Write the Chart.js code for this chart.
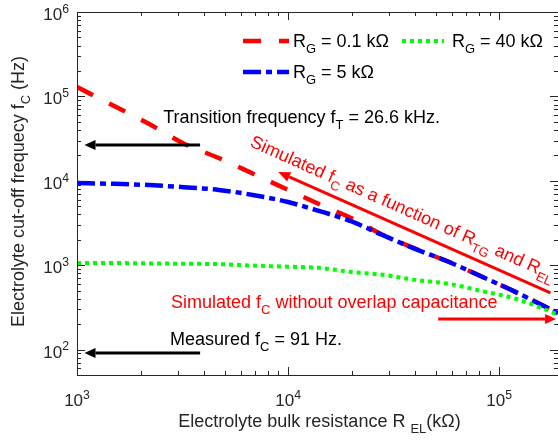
<!DOCTYPE html>
<html><head><meta charset="utf-8">
<script src="https://cdn.jsdelivr.net/npm/chart.js@4/dist/chart.umd.min.js"></script>
<style>html,body{margin:0;padding:0;background:#fff;overflow:hidden}#wrap{width:558px;height:446px;position:relative}</style>
</head><body><div id="wrap"><canvas id="c" width="558" height="446"></canvas></div>
<script>
// ---- data ----
const resistance = [1000,1500,2200,3200,4700,6800,10000,14000,20000,28000,40000,58000,84000,120000,190000]; // R_EL (kOhm)
const fcRG01 = [129000,77000,47000,27700,18600,12200,7800,5300,3600,2300,1570,1090,720,480,270];
const fcRG5  = [9400,9200,8900,8400,7800,6800,5600,4400,3300,2280,1560,1090,720,480,270];
const fcRG40 = [1060,1060,1050,1040,1030,990,960,930,830,770,670,600,490,400,260];
const seriesLabels = ['0.1 k\u03A9','5 k\u03A9','40 k\u03A9'];
const xDecades = [3,4,5];
const yDecades = [2,3,4,5,6];
const transitionFreq = 26600;   // Hz
const measuredFc = 91;          // Hz

const FAM = '"Liberation Sans", Arial, Helvetica, sans-serif';
const AX = '#262626';

function drawRich(ctx, parts, x, y, size, align, color){
  const segs=[]; let total=0;
  for(const p of parts){
    const k=p[1]||'';
    const fs = k ? size*0.72 : size;
    ctx.font = fs+'px '+FAM;
    const w = ctx.measureText(p[0]).width;
    segs.push({t:p[0],fs,w,dy: k==='sub'? size*0.33 : (k==='sup'? -size*0.42 : 0)});
    total+=w;
  }
  let cx = align==='center'? x-total/2 : (align==='right'? x-total : x);
  ctx.textAlign='left'; ctx.textBaseline='alphabetic'; ctx.fillStyle=color;
  for(const s of segs){ ctx.font=s.fs+'px '+FAM; ctx.fillText(s.t,cx,y+s.dy); cx+=s.w; }
  return total;
}
function arrow(ctx, x1,y1,x2,y2,color,lw,hl,hw){
  const a=Math.atan2(y2-y1,x2-x1);
  const bx=x2-hl*Math.cos(a), by=y2-hl*Math.sin(a);
  ctx.save(); ctx.strokeStyle=color; ctx.fillStyle=color; ctx.lineWidth=lw; ctx.setLineDash([]);
  ctx.beginPath(); ctx.moveTo(x1,y1); ctx.lineTo(bx,by); ctx.stroke();
  ctx.beginPath(); ctx.moveTo(x2,y2);
  ctx.lineTo(bx+hw*Math.sin(a), by-hw*Math.cos(a));
  ctx.lineTo(bx-hw*Math.sin(a), by+hw*Math.cos(a)); ctx.closePath(); ctx.fill();
  ctx.restore();
}

const decor = {
  id:'decor',
  afterDatasetsDraw(chart){
    const ctx=chart.ctx, ca=chart.chartArea, xs=chart.scales.x, ys=chart.scales.y;
    ctx.save();
    // axes box (left, top, bottom)
    ctx.strokeStyle=AX; ctx.lineWidth=1; ctx.setLineDash([]);
    ctx.beginPath();
    ctx.moveTo(ca.left+0.5, ca.top+0.5); ctx.lineTo(ca.right, ca.top+0.5);
    ctx.moveTo(ca.left+0.5, ca.top); ctx.lineTo(ca.left+0.5, ca.bottom+0.5);
    ctx.moveTo(ca.left, ca.bottom+0.5); ctx.lineTo(ca.right, ca.bottom+0.5);
    ctx.stroke();
    // ticks
    ctx.beginPath();
    for(let d=xDecades[0]; d<=xDecades[xDecades.length-1]+1; d++){
      for(let m=1;m<=9;m++){
        const v=m*Math.pow(10,d); if(v<xs.min||v>xs.max) continue;
        const px=Math.round(xs.getPixelForValue(v))+0.5, L=m===1?8:4;
        ctx.moveTo(px,ca.bottom); ctx.lineTo(px,ca.bottom-L);
        ctx.moveTo(px,ca.top); ctx.lineTo(px,ca.top+L);
      }
    }
    for(let d=1; d<=6; d++){
      for(let m=1;m<=9;m++){
        const v=m*Math.pow(10,d); if(v<ys.min||v>ys.max) continue;
        const py=Math.round(ys.getPixelForValue(v))+0.5, L=m===1?8:4;
        ctx.moveTo(ca.left,py); ctx.lineTo(ca.left+L,py);
        ctx.moveTo(ca.right,py); ctx.lineTo(ca.right-L,py);
      }
    }
    ctx.stroke();
    // tick labels
    for(const d of xDecades){
      drawRich(ctx,[['10'],[String(d),'sup']], xs.getPixelForValue(Math.pow(10,d)), ca.bottom+31, 17,'center',AX);
    }
    for(const d of yDecades){
      drawRich(ctx,[['10'],[String(d),'sup']], ca.left-8, ys.getPixelForValue(Math.pow(10,d))+8, 17,'right',AX);
    }
    // axis titles
    drawRich(ctx,[['Electrolyte bulk resistance R '],['EL','sub'],['(k\u03A9)']], (ca.left+ca.right)/2+2, 427, 18,'center',AX);
    ctx.save(); ctx.translate(24,(ca.top+ca.bottom)/2-2); ctx.rotate(-Math.PI/2);
    drawRich(ctx,[['Electrolyte cut-off frequecy f'],['C','sub'],[' (Hz)']],0,0,18,'center',AX);
    ctx.restore();

    // legend
    const ds=chart.data.datasets;
    const leg=[[0,243,41],[2,402,41],[1,243,72]];
    for(const [i,lx,ly] of leg){
      const o=ds[i];
      ctx.save(); ctx.strokeStyle=o.borderColor; ctx.lineWidth=o.borderWidth; ctx.setLineDash(o.borderDash); ctx.lineCap='butt';
      ctx.beginPath(); ctx.moveTo(lx,ly); ctx.lineTo(lx+(i===2?42:46),ly); ctx.stroke(); ctx.restore();
      drawRich(ctx,[['R'],['G','sub'],[' = '+seriesLabels[i]]], lx+(i===2?50:50), ly+6, 18,'left','#000');
    }

    // annotations (anchored in data coordinates)
    const P=(r,f)=>[xs.getPixelForValue(r), ys.getPixelForValue(f)];
    let a=P(3830,transitionFreq), b=P(1085,transitionFreq);
    arrow(ctx,a[0],a[1],b[0],b[1],'#000',3,11,5);
    let t=P(2560,48400); drawRich(ctx,[['Transition frequency f'],['T','sub'],[' = 26.6 kHz.']],t[0],t[1],18,'left','#000');
    a=P(3830,measuredFc); b=P(1085,measuredFc);
    arrow(ctx,a[0],a[1],b[0],b[1],'#000',3,11,5);
    t=P(2760,113); drawRich(ctx,[['Measured f'],['C','sub'],[' = 91 Hz.']],t[0],t[1],18,'left','#000');
    t=P(2790,311); drawRich(ctx,[['Simulated f'],['C','sub'],[' without overlap capacitance']],t[0],t[1],18,'left','#ff0000');
    a=P(51400,231); b=P(186000,231);
    arrow(ctx,a[0],a[1],b[0],b[1],'#ff0000',3,11,5);
    a=P(175000,469); b=P(8980,12700);
    arrow(ctx,a[0],a[1],b[0],b[1],'#ff0000',3,12,5);
    const ang=Math.atan2(a[1]-b[1],a[0]-b[0]);
    t=P(6530,25800);
    ctx.save(); ctx.translate(t[0],t[1]); ctx.rotate(ang);
    drawRich(ctx,[['Simulated f'],['C','sub'],[' as a function of R'],['TG','sub'],[' and R'],['EL','sub']],0,0,18,'left','#ff0000');
    ctx.restore();
    ctx.restore();
  }
};

const mk=(vals)=>resistance.map((r,i)=>({x:r,y:vals[i]}));
new Chart(document.getElementById('c'),{
  type:'line',
  data:{datasets:[
    {label:'R_G = 0.1 k\u03A9', data:mk(fcRG01), borderColor:'#ff0000', borderWidth:4.5, borderDash:[18,18], order:3},
    {label:'R_G = 5 k\u03A9', data:mk(fcRG5), borderColor:'#0000ff', borderWidth:4.5, borderDash:[18,5,6,5], order:2},
    {label:'R_G = 40 k\u03A9', data:mk(fcRG40), borderColor:'#00ff00', borderWidth:4, borderDash:[4,4], order:1}
  ]},
  options:{
    responsive:false, devicePixelRatio:1, animation:false,
    layout:{padding:{left:77,top:12,right:0,bottom:71}},
    elements:{point:{radius:0}, line:{cubicInterpolationMode:'monotone', borderCapStyle:'butt', fill:false}},
    plugins:{legend:{display:false}, tooltip:{enabled:false}},
    scales:{
      x:{type:'logarithmic', min:1000, max:190000, display:false},
      y:{type:'logarithmic', min:50, max:1e6, display:false}
    }
  },
  plugins:[decor]
});
</script></body></html>
